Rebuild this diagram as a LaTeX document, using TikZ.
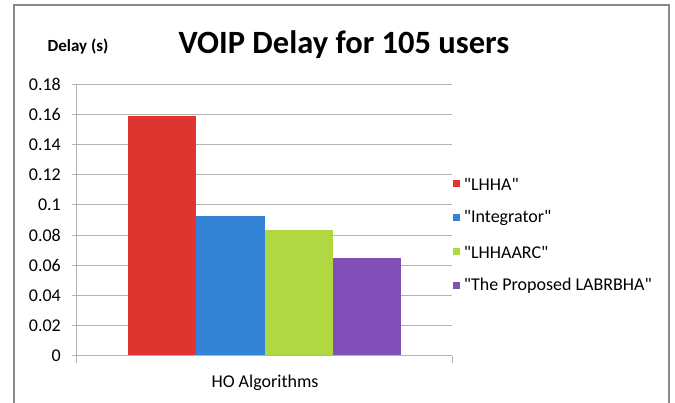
\documentclass[tikz,border=0pt]{standalone}
\usepackage{fontspec}
\setmainfont{Carlito}
\usepackage{xcolor}
\usetikzlibrary{positioning}
\definecolor{barred}{RGB}{224,52,48}
\definecolor{barblue}{RGB}{50,130,216}
\definecolor{bargreen}{RGB}{176,216,64}
\definecolor{barpurple}{RGB}{128,80,184}
\definecolor{gridgray}{RGB}{180,180,180}
\definecolor{framegray}{RGB}{136,136,136}
\newcommand{\qt}[1]{\textquotedbl#1\textquotedbl}

\begin{document}
\begin{tikzpicture}[x=1pt,y=-1pt,
  grid/.style={draw=gridgray,line width=1pt},
  lbl/.style={inner sep=0pt,font=\fontsize{18}{18}\selectfont},
  ticklbl/.style={lbl,anchor=east},
  key/.style={minimum size=7pt,inner sep=0pt},
  keytext/.style={lbl,anchor=west}
]
\useasboundingbox (0,0) rectangle (675,403);
% chart frame
\draw[framegray,line width=1.5pt] (14,403) -- (14,5) -- (669,5) -- (669,403);

% titles
\node[inner sep=0pt,font=\fontsize{32.5}{33}\selectfont\bfseries] (title) at (344,45) {VOIP Delay for 105 users};
\node[inner sep=0pt,font=\fontsize{17}{17}\selectfont\bfseries] (ylabel) at (78,47) {Delay (s)};
\node[lbl] (xlabel) at (265,383) {HO Algorithms};

% grid and value axis
\foreach \k/\v in {0/0,1/0.02,2/0.04,3/0.06,4/0.08,5/0.1,6/0.12,7/0.14,8/0.16,9/0.18} {
  \draw[grid] (72,{356-30.2*\k}) -- (452,{356-30.2*\k});
  \node[ticklbl] (tick\k) at (61,{356-30.2*\k}) {\v};
}
\draw[grid] (76,84) -- (76,363);
\draw[grid] (452,356) -- (452,363);

% bars
\fill[barred] (128,356) rectangle (196,{356-0.159*1511});
\fill[barblue] (196,356) rectangle (264.5,{356-0.0925*1511});
\fill[bargreen] (264.5,356) rectangle (333,{356-0.0835*1511});
\fill[barpurple] (333,356) rectangle (401,{356-0.065*1511});
\draw[grid] (72,356) -- (452,356);

% legend
\node[key,fill=barred] (k1) at (456,184) {};
\node[keytext,right=4pt of k1] (t1) {\qt{LHHA}};
\node[key,fill=barblue] (k2) at (456,218) {};
\node[keytext,right=4pt of k2] (t2) {\qt{Integrator}};
\node[key,fill=bargreen] (k3) at (456,252) {};
\node[keytext,right=4pt of k3] (t3) {\qt{LHHAARC}};
\node[key,fill=barpurple] (k4) at (456,286) {};
\node[keytext,right=4pt of k4] (t4) {\qt{The Proposed LABRBHA}};
\end{tikzpicture}
\end{document}
